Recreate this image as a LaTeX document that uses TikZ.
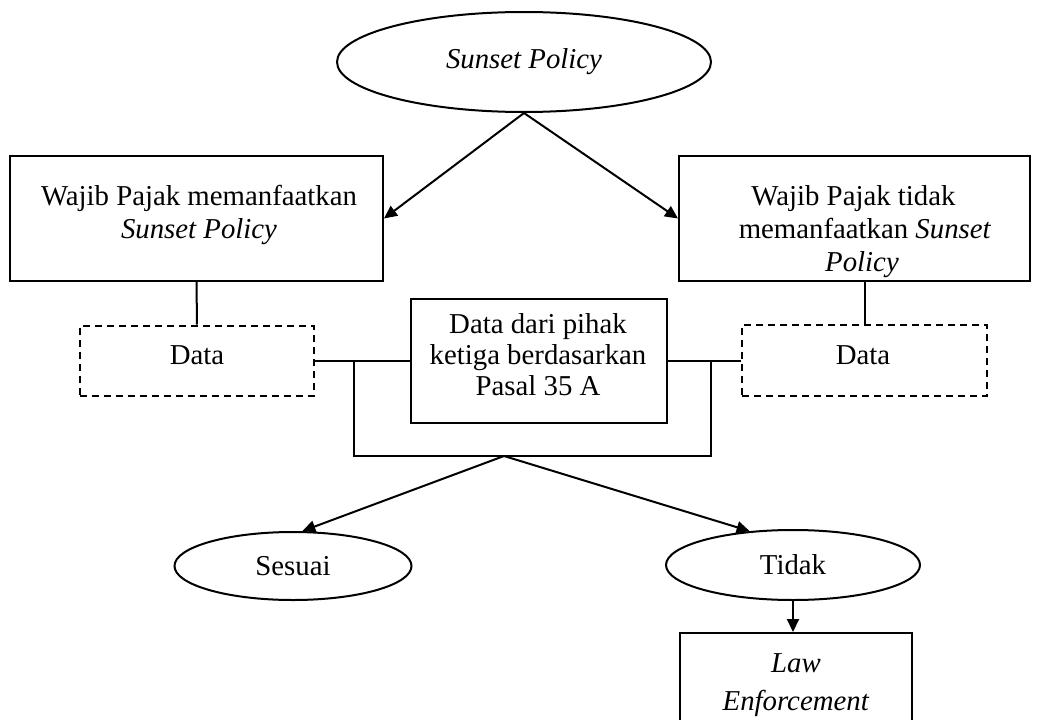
\documentclass[tikz,border=0pt]{standalone}
\usepackage{fontspec}
\setmainfont{Liberation Serif}
\usetikzlibrary{shapes.geometric,arrows.meta}
\begin{document}
\begin{tikzpicture}[x=1pt,y=-1pt,
  every node/.style={font=\fontsize{28.8}{33}\selectfont, inner sep=0pt},
  box/.style={draw, fill=white, line width=2pt, rectangle},
  dbox/.style={draw, fill=white, line width=2pt, rectangle, dash pattern=on 7pt off 5pt},
  oval/.style={draw, fill=white, ellipse, line width=2pt},
  txt/.style={anchor=base},
  link/.style={line width=2pt},
  arr/.style={line width=2pt, -{Triangle[length=13pt,width=12pt]}}]
\clip (0,0) rectangle (1042,720);
\fill[white] (0,0) rectangle (1042,720);

% top ellipse
\node[oval, minimum width=374pt, minimum height=100pt] (sp) at (524,62) {\textit{Sunset Policy}};

% left box
\node[box, minimum width=373pt, minimum height=125pt] (wl) at (196.5,218.5) {};
\node[txt] (wl1) at (199,205) {Wajib Pajak memanfaatkan};
\node[txt] (wl2) at (199,238) {\textit{Sunset Policy}};

% right box
\node[box, minimum width=351pt, minimum height=125pt] (wr) at (854.5,218.5) {};
\node[txt] (wr1) at (853.5,205) {Wajib Pajak tidak};
\node[txt] (wr2) at (865,238) {memanfaatkan \textit{Sunset}};
\node[txt] (wr3) at (862,271) {\textit{Policy}};

% data boxes
\node[dbox, minimum width=234pt, minimum height=70pt] (dl) at (197,360.5) {};
\node[txt] (dl1) at (197,364) {Data};
\node[dbox, minimum width=245pt, minimum height=71pt] (dr) at (864.5,360.5) {};
\node[txt] (dr1) at (863,364) {Data};

% centre box
\node[box, minimum width=256pt, minimum height=124pt] (c) at (539,360.5) {};
\node[txt] (c1) at (538,333) {Data dari pihak};
\node[txt] (c2) at (538,364) {ketiga berdasarkan};
\node[txt] (c3) at (538,395) {Pasal 35 A};

% bottom ellipses
\node[oval, minimum width=237pt, minimum height=68pt] (ses) at (293,566) {Sesuai};
\node[oval, minimum width=254pt, minimum height=70pt] (tid) at (793,565) {Tidak};

% law enforcement box
\node[box, minimum width=232pt, minimum height=147pt] (law) at (796,706.5) {};
\node[txt] (law1) at (796,672) {\textit{Law}};
\node[txt] (law2) at (796,710) {\textit{Enforcement}};

% junctions
\coordinate (jl) at (354,360.5);
\coordinate (jr) at (711,360.5);
\coordinate (apex) at (504,456);

% connectors
\draw[arr] (sp.south) -- (wl.east);
\draw[arr] (sp.south) -- (wr.west);
\draw[link] (wl.south) -- (dl.north);
\draw[link] (dr.north) -- (dr.north |- wr.south);
\draw[link] (dl.east) -- (c.west);
\draw[link] (c.east) -- (dr.west);
\draw[link] (jl) |- (apex) -| (jr);
\draw[arr] (apex) -- (ses.75);
\draw[arr] (apex) -- (tid.142);
\draw[arr] (tid.south) -- (tid.south |- law.north);
\end{tikzpicture}
\end{document}
